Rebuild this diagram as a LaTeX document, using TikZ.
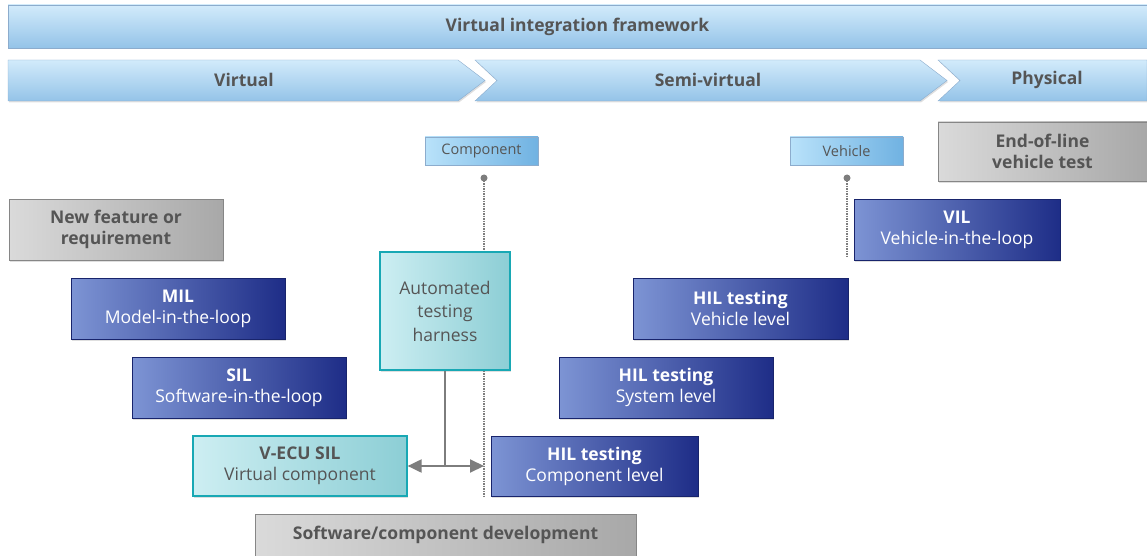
\documentclass[tikz,border=0pt]{standalone}
\usepackage{fontspec}
\setmainfont{Open Sans}
\usetikzlibrary{shadows,arrows.meta}

\definecolor{txtgray}{RGB}{85,85,85}
\definecolor{barlight}{RGB}{210,235,251}
\definecolor{bardark}{RGB}{148,195,232}
\definecolor{barline}{RGB}{140,172,205}
\definecolor{taglight}{RGB}{185,226,250}
\definecolor{tagdark}{RGB}{112,178,226}
\definecolor{blulight}{RGB}{125,148,212}
\definecolor{blumid}{RGB}{52,78,162}
\definecolor{bludark}{RGB}{30,45,135}
\definecolor{teallight}{RGB}{205,238,242}
\definecolor{tealmid}{RGB}{140,206,213}
\definecolor{tealedge}{RGB}{24,168,180}
\definecolor{graylight}{RGB}{218,218,218}
\definecolor{graydark}{RGB}{168,168,168}
\definecolor{connector}{RGB}{125,125,125}

\tikzset{
  shade/.style={drop shadow={opacity=0.25,shadow xshift=1pt,shadow yshift=-1.5pt}},
  bar/.style={draw=barline, top color=barlight, bottom color=bardark, shade},
  bartext/.style={text=txtgray, font=\fontsize{17.5}{20}\selectfont\bfseries},
  tagbox/.style={draw=barline, left color=taglight, right color=tagdark, shade,
    minimum width=113, minimum height=28, inner sep=0pt, text=txtgray,
    font=\fontsize{14.5}{16}\selectfont},
  graybox/.style={draw=graydark!80!black, left color=graylight, right color=graydark, shade,
    inner sep=0pt, text=txtgray, align=center, font=\fontsize{17.5}{21}\selectfont\bfseries},
  bluebox/.style={draw=bludark!80!black, left color=blulight, middle color=blumid, right color=bludark,
    shade, minimum width=214, minimum height=61, inner sep=0pt, text=white, align=center,
    font=\fontsize{17.5}{21}\selectfont},
  tealbox/.style={draw=tealedge, line width=1.2pt, left color=teallight, right color=tealmid,
    shade, inner sep=0pt, text=txtgray, align=center, font=\fontsize{17.5}{21}\selectfont},
  link/.style={draw=connector, line width=2pt},
  guide/.style={draw=connector, line width=1.5pt, densely dotted},
}

\begin{document}
\begin{tikzpicture}[x=1pt,y=-1pt]
    \useasboundingbox (0,0) rectangle (1147,556);

    % framework bar and phases
    \node[bar, minimum width=1139, minimum height=43, inner sep=0pt] (framework) at (577.5,26.5) {};
    \node[bartext] (frameworktext) at (framework.center) {Virtual integration framework};

    \path[bar] (8,60) -- (458,60) -- (485,80.5) -- (458,101) -- (8,101) -- cycle;
    \path[bar] (475,60) -- (920,60) -- (947,80.5) -- (920,101) -- (475,101) -- (497,80.5) -- cycle;
    \path[bar] (938,60) -- (1147,60) -- (1147,101) -- (938,101) -- (960,80.5) -- cycle;
    \node[bartext] (virtual) at (244,80) {Virtual};
    \node[bartext] (semivirtual) at (708,80) {Semi-virtual};
    \node[bartext] (physical) at (1047,80) {Physical};

    % levels
    \node[tagbox] (component) at (481.5,151) {Component};
    \node[tagbox] (vehicle) at (846.5,151) {Vehicle};

    \coordinate (compdot) at (484,178);
    \coordinate (compend) at (484,496);
    \coordinate (vehdot) at (847,178);
    \coordinate (vehend) at (847,258);
    \fill[connector] (compdot) circle (3.5);
    \fill[connector] (vehdot) circle (3.5);
    \draw[guide] (compdot) -- (compend);
    \draw[guide] (vehdot) -- (vehend);

    % gray boxes
    \node[graybox, minimum width=209, minimum height=59] (endofline) at (1042.5,151.5) {End-of-line\\vehicle test};
    \node[graybox, minimum width=214, minimum height=61] (newfeature) at (116,229.5) {New feature or\\requirement};
    \node[graybox, minimum width=381, minimum height=42] (swdev) at (445.5,535) {Software/component development};

    % loop levels
    \node[bluebox] (mil) at (178,308.5) {\textbf{MIL}\\Model-in-the-loop};
    \node[bluebox] (sil) at (239,387.5) {\textbf{SIL}\\Software-in-the-loop};
    \node[bluebox, minimum width=206] (vil) at (957,229.5) {\textbf{VIL}\\Vehicle-in-the-loop};
    \node[bluebox, minimum width=215] (hilvehicle) at (740.5,308.5) {\textbf{HIL testing}\\Vehicle level};
    \node[bluebox] (hilsystem) at (666,387.5) {\textbf{HIL testing}\\System level};
    \node[bluebox, minimum width=207, minimum height=60] (hilcomponent) at (594.5,466) {\textbf{HIL testing}\\Component level};

    \node[tealbox, minimum width=130, minimum height=118, font=\fontsize{17.5}{23.5}\selectfont] (harness) at (445,311) {Automated\\testing\\harness};
    \node[tealbox, minimum width=214, minimum height=60] (vecu) at (300,466) {\textbf{V-ECU SIL}\\Virtual component};

    % harness links
    \coordinate (junction) at (harness.south |- vecu.east);
    \coordinate (compjoin) at (compend |- vecu.east);
    \draw[link] (harness.south) -- (junction);
    \draw[link, {Triangle[length=14pt,width=13pt]}-{Triangle[length=14pt,width=13pt]}] (vecu.east) -- (compjoin);

\end{tikzpicture}
\end{document}
